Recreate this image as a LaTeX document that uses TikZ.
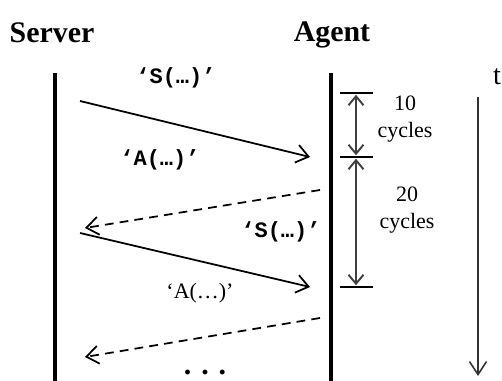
\documentclass[tikz,border=0pt]{standalone}
\usepackage{fontspec}
\setmainfont{Liberation Serif}
\setmonofont{Liberation Mono}
\usetikzlibrary{arrows.meta}

\begin{document}
\begin{tikzpicture}[
      x=1cm, y=1cm,
      party/.style={font=\fontsize{17}{20}\selectfont\bfseries, inner sep=0pt, anchor=base},
      life/.style={line width=1.8pt},
      msg/.style={-{Straight Barb[length=2.4mm, width=3.6mm]}, line width=1pt},
      reply/.style={msg, dashed, dash pattern=on 5pt off 3.5pt},
      code/.style={font=\fontsize{12.5}{14}\selectfont\ttfamily\bfseries, inner sep=0pt},
      plain/.style={font=\fontsize{12.5}{14}\selectfont, inner sep=0pt, align=center},
      tick/.style={line width=1pt},
      span/.style={{Straight Barb[length=1.8mm, width=3mm]}-{Straight Barb[length=1.8mm, width=3mm]}, line width=1.1pt, black!75}
    ]
    \useasboundingbox (0,0) rectangle (10.04,-7.62);

    % headers
    \node[party] (server) at (1.04,-0.86) {Server};
    \node[party] (agent) at (6.64,-0.84) {Agent};
    \node[font=\fontsize{16}{18}\selectfont, inner sep=0pt] (t) at (9.94,-1.54) {t};

    % lifelines
    \coordinate (stop) at (1.1,-1.46);
    \coordinate (sbot) at (1.1,-7.62);
    \coordinate (atop) at (6.62,-1.46);
    \coordinate (abot) at (6.62,-7.62);
    \draw[life] (stop) -- (sbot);
    \draw[life] (atop) -- (abot);

    % time axis
    \coordinate (ttop) at (9.56,-1.94);
    \coordinate (tbot) at (9.56,-7.52);
    \draw[-{Straight Barb[length=2.6mm, width=3.4mm]}, line width=0.9pt, black!80] (ttop) -- (tbot);

    % messages
    \coordinate (s1) at (1.6,-2.02);
    \coordinate (a1) at (6.2,-3.14);
    \coordinate (a2) at (6.4,-3.8);
    \coordinate (s2) at (1.7,-4.56);
    \coordinate (s3) at (1.6,-4.66);
    \coordinate (a3) at (6.2,-5.74);
    \coordinate (a4) at (6.4,-6.36);
    \coordinate (s4) at (1.7,-7.14);
    \draw[msg] (s1) -- (a1);
    \draw[reply] (a2) -- (s2);
    \draw[msg] (s3) -- (a3);
    \draw[reply] (a4) -- (s4);

    \node[code] (m1) at (3.52,-1.56) {‘S(…)’};
    \node[code] (m2) at (3.2,-3.2) {‘A(…)’};
    \node[code] (m3) at (5.62,-4.64) {‘S(…)’};
    \node[plain] (m4) at (4.0,-5.86) {‘A(…)’};
    \node[font=\fontsize{17}{18}\selectfont\bfseries, inner sep=0pt] (more) at (4.1,-7.44) {.\,\,.\,\,.};

    % cycle marks
    \foreach \n/\y in {k1/-1.86, k2/-3.14, k3/-5.74} {
      \coordinate (\n l) at (6.8,\y);
      \coordinate (\n r) at (7.46,\y);
      \coordinate (\n) at (7.12,\y);
      \draw[tick] (\n l) -- (\n r);
    }
    \draw[span] ([yshift=-1pt]k1) -- ([yshift=1pt]k2);
    \draw[span] ([yshift=-1pt]k2) -- ([yshift=1pt]k3);

    \node[plain] (c10) at (8.1,-2.38) {10\\[1pt]cycles};
    \node[plain] (c20) at (8.14,-4.2) {20\\[1pt]cycles};
  \end{tikzpicture}
\end{document}
